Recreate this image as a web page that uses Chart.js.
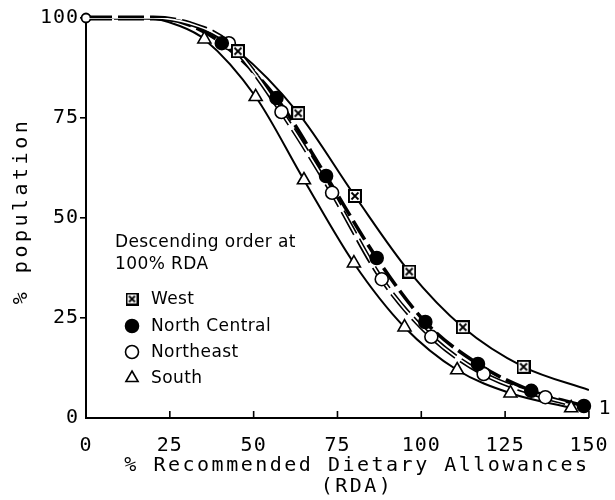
<!DOCTYPE html>
<html>
<head>
<meta charset="utf-8">
<script src="https://cdn.jsdelivr.net/npm/chart.js@4/dist/chart.umd.min.js"></script>
<style>
  body { margin: 0; background: #fff; }
  #wrap { width: 615px; height: 500px; }
</style>
</head>
<body>
<div id="wrap"><canvas id="rda" width="615" height="500"></canvas></div>
<script>
// values: % RDA (x) vs % population (y)
const regions = ['West', 'North Central', 'Northeast', 'South']

const westRda = [45.3, 63.3, 80.2, 96.4, 112.4, 130.5]
const westPop = [91.7, 76.2, 55.5, 36.6, 22.7, 12.8]
const northCentralRda = [40.5, 56.8, 71.6, 86.7, 101.2, 116.9, 132.8, 148.5]
const northCentralPop = [93.7, 80, 60.5, 40, 24, 13.5, 6.8, 3]
const northeastRda = [42.6, 58.3, 73.4, 88.2, 103, 118.6, 137]
const northeastPop = [93.7, 76.5, 56.3, 34.7, 20.3, 11, 5.2]
const southRda = [35.3, 50.6, 65, 79.9, 95, 110.7, 126.6, 144.7]
const southPop = [94.7, 80.3, 59.5, 38.7, 22.7, 12, 6.2, 2.5]

// where the drawn curves run before the first marker and past the last one
const westLeadRda = [0, 20, 31], westLeadPop = [100, 100, 98.6]
const westTailRda = [150], westTailPop = [7]
const northCentralLeadRda = [0, 20, 30], northCentralLeadPop = [100, 100, 98.5]
const northCentralTailRda = [], northCentralTailPop = []
const northeastLeadRda = [0, 20, 31], northeastLeadPop = [100, 100, 98.6]
const northeastTailRda = [143], northeastTailPop = [3.8]
const southLeadRda = [0, 18, 28], southLeadPop = [100, 100, 98]
const southTailRda = [], southTailPop = []

const xTicks = [0, 25, 50, 75, 100, 125, 150]
const yTicks = [0, 25, 50, 75, 100]
const xTitle = ['% Recommended Dietary Allowances', '(RDA)']
const yTitle = '% population'
const legendHead = ['Descending order at', '100% RDA']

const pts = (xs, ys) => xs.map((x, i) => ({x: x, y: ys[i]}))

function boxCross(size) {
  const c = document.createElement('canvas')
  c.width = size
  c.height = size
  const g = c.getContext('2d')
  g.fillStyle = '#fff'
  g.fillRect(0, 0, size, size)
  g.strokeStyle = '#000'
  g.lineWidth = 2
  g.strokeRect(1, 1, size - 2, size - 2)
  g.lineWidth = 1.8
  g.beginPath()
  g.moveTo(3.5, 3.5); g.lineTo(size - 3.5, size - 3.5)
  g.moveTo(size - 3.5, 3.5); g.lineTo(3.5, size - 3.5)
  g.stroke()
  return c
}

const marks = [
  {style: boxCross(14), fill: '#fff', r: 7},
  {style: 'circle', fill: '#000', r: 6.5},
  {style: 'circle', fill: '#fff', r: 6.5},
  {style: 'triangle', fill: '#fff', r: 7.5}
]
const legendMarks = [
  {style: boxCross(13), fill: '#fff', r: 6.5},
  {style: 'circle', fill: '#000', r: 6.5},
  {style: 'circle', fill: '#fff', r: 6.5},
  {style: 'triangle', fill: '#fff', r: 7}
]

const curve = (lx, ly, mx, my, tx, ty) => pts(lx.concat(mx, tx), ly.concat(my, ty))
const westCurve = curve(westLeadRda, westLeadPop, westRda, westPop, westTailRda, westTailPop)
const ncCurve = curve(northCentralLeadRda, northCentralLeadPop, northCentralRda, northCentralPop, northCentralTailRda, northCentralTailPop)
const neCurve = curve(northeastLeadRda, northeastLeadPop, northeastRda, northeastPop, northeastTailRda, northeastTailPop)
const soCurve = curve(southLeadRda, southLeadPop, southRda, southPop, southTailRda, southTailPop)

const lineSet = (label, data, extra) => Object.assign({
  label: label,
  data: data,
  showLine: true,
  borderColor: '#000',
  borderWidth: 2,
  pointRadius: 0,
  cubicInterpolationMode: 'monotone',
  fill: false,
  order: 3
}, extra)

const markSet = (i, xs, ys) => ({
  label: regions[i] + ' points',
  data: pts(xs, ys),
  showLine: false,
  pointStyle: marks[i].style,
  pointRadius: marks[i].r,
  pointBackgroundColor: marks[i].fill,
  pointBorderColor: '#000',
  pointBorderWidth: 1.6,
  clip: false,
  order: 0
})

const axisDecor = {
  id: 'axisDecor',
  beforeDraw(chart) {
    chart.ctx.letterSpacing = '1px'
  },
  afterDraw(chart) {
    const {ctx, chartArea, scales} = chart
    ctx.save()
    // x ticks point up into the plot
    ctx.strokeStyle = '#000'
    ctx.lineWidth = 1.6
    ctx.beginPath()
    scales.x.ticks.forEach(t => {
      if (t.value === 0) return
      const px = scales.x.getPixelForValue(t.value)
      ctx.moveTo(px, chartArea.bottom)
      ctx.lineTo(px, chartArea.bottom - 7)
    })
    ctx.stroke()

    ctx.fillStyle = '#000'
    ctx.textAlign = 'center'
    ctx.textBaseline = 'middle'
    ctx.font = '20px "DejaVu Sans Mono"'
    ctx.letterSpacing = '2.5px'
    ctx.fillText(xTitle[0], 357, 466)
    ctx.fillText(xTitle[1], 357, 487)

    ctx.save()
    ctx.translate(22, 211)
    ctx.rotate(-Math.PI / 2)
    ctx.letterSpacing = '3.5px'
    ctx.fillText(yTitle, 0, 0)
    ctx.restore()

    ctx.letterSpacing = '1px'
    ctx.fillText('1', 605, 409)

    // legend box inside the plot
    ctx.letterSpacing = '0.4px'
    ctx.font = '17px "DejaVu Sans"'
    ctx.textAlign = 'left'
    ctx.fillText(legendHead[0], 115, 243)
    ctx.fillText(legendHead[1], 115, 265)
    const rows = [299, 326, 352, 378]
    regions.forEach((name, i) => {
      const m = legendMarks[i]
      ctx.fillStyle = m.fill
      ctx.strokeStyle = '#000'
      ctx.lineWidth = 1.6
      Chart.helpers.drawPoint(ctx, {pointStyle: m.style, radius: m.r, rotation: 0, borderWidth: 1.6}, 132, rows[i])
      ctx.fillStyle = '#000'
      ctx.fillText(name, 151, rows[i] + 1)
    })
    ctx.restore()
  }
}

new Chart(document.getElementById('rda'), {
  type: 'scatter',
  data: {
    datasets: [
      markSet(0, westRda, westPop),
      markSet(1, northCentralRda, northCentralPop),
      markSet(2, northeastRda, northeastPop),
      markSet(3, southRda, southPop),
      lineSet('Northeast inner', neCurve, {borderColor: '#fff', borderWidth: 1.6, order: 1}),
      lineSet('West', westCurve, {}),
      lineSet('North Central', ncCurve, {borderWidth: 3.6, borderDash: [22, 6]}),
      lineSet('Northeast', neCurve, {
        borderWidth: 4.8,
        borderDash: [26, 6],
        pointRadius: c => c.dataIndex === 0 ? 4.5 : 0,
        pointBackgroundColor: '#fff',
        pointBorderColor: '#000',
        pointBorderWidth: 1.8,
        clip: false,
        order: 2
      }),
      lineSet('South', soCurve, {})
    ]
  },
  options: {
    responsive: false,
    animation: false,
    events: [],
    layout: {padding: {top: 18, right: 22, left: 0, bottom: 0}},
    plugins: {legend: {display: false}, tooltip: {enabled: false}},
    scales: {
      x: {
        type: 'linear',
        min: 0,
        max: 150,
        afterFit: s => { s.height = 82 },
        afterBuildTicks: s => { s.ticks = xTicks.map(v => ({value: v})) },
        ticks: {color: '#000', padding: 8, maxRotation: 0, font: {family: 'DejaVu Sans Mono', size: 20}},
        grid: {display: false},
        border: {display: true, color: '#000', width: 2}
      },
      y: {
        type: 'linear',
        min: 0,
        max: 100,
        afterFit: s => { s.width = 86 },
        afterBuildTicks: s => { s.ticks = yTicks.map(v => ({value: v})) },
        ticks: {color: '#000', padding: 1, font: {family: 'DejaVu Sans Mono', size: 20}},
        grid: {
          drawOnChartArea: false,
          drawTicks: true,
          tickLength: 6,
          lineWidth: 1.6,
          color: c => (c.tick && c.tick.value === 0) ? 'rgba(0,0,0,0)' : '#000'
        },
        border: {display: true, color: '#000', width: 2}
      }
    }
  },
  plugins: [axisDecor]
})
</script>
</body>
</html>
